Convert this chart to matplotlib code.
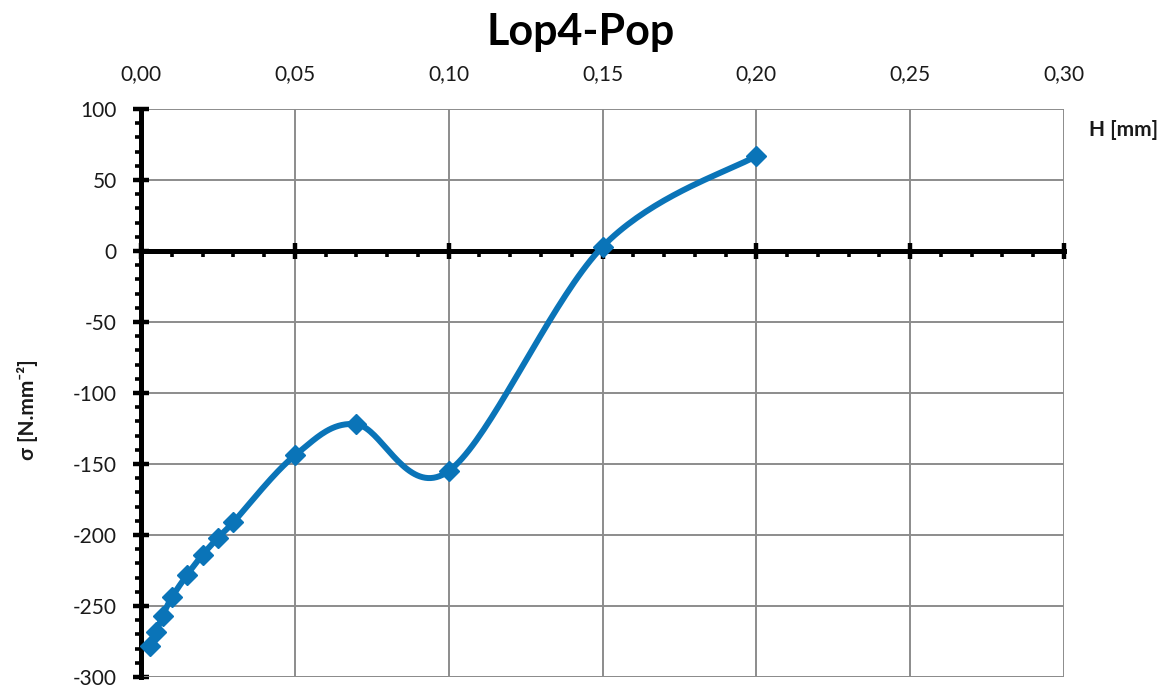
import numpy as np
import matplotlib.pyplot as plt
from matplotlib.ticker import MultipleLocator, FuncFormatter

plt.rcParams['font.family'] = ['Lato', 'DejaVu Sans']

# measured points: depth H [mm] vs residual stress sigma [N/mm2]
h = [0.003, 0.005, 0.007, 0.010, 0.015, 0.020, 0.025, 0.030, 0.05, 0.07, 0.10, 0.15, 0.20]
sigma = [-278, -268, -257, -244, -228, -214, -202, -191, -144, -122, -155, 3, 67]

x_ticks = [0.00, 0.05, 0.10, 0.15, 0.20, 0.25, 0.30]
y_ticks = [-300, -250, -200, -150, -100, -50, 0, 50, 100]

blue = '#0a74b8'


def smooth(xs, ys, n=40):
    # Catmull-Rom bezier pieces, same idea as a spreadsheet "smoothed line"
    pts = np.column_stack([xs, ys]).astype(float)
    pts = np.vstack([pts[0], pts, pts[-1]])
    out = []
    t = np.linspace(0, 1, n)[:, None]
    for i in range(1, len(pts) - 2):
        p0, p3 = pts[i], pts[i + 1]
        p1 = p0 + (pts[i + 1] - pts[i - 1]) / 6
        p2 = p3 - (pts[i + 2] - pts[i]) / 6
        seg = ((1 - t) ** 3) * p0 + 3 * ((1 - t) ** 2) * t * p1 + 3 * (1 - t) * t ** 2 * p2 + t ** 3 * p3
        out.append(seg)
    out = np.vstack(out)
    return out[:, 0], out[:, 1]


fig = plt.figure(figsize=(11.71, 6.86), dpi=100)
ax = fig.add_axes([141 / 1171, 1 - 677 / 686, (1064 - 141) / 1171, (677 - 109) / 686])

ax.set_xlim(0, 0.30)
ax.set_ylim(-300, 100)

ax.set_xticks(x_ticks)
ax.set_yticks(y_ticks)
ax.xaxis.set_minor_locator(MultipleLocator(0.01))
ax.yaxis.set_minor_locator(MultipleLocator(10))
ax.grid(True, which='major', color='#8c8c8c', lw=1.4)
ax.set_axisbelow(True)

for s in ['top', 'right']:
    ax.spines[s].set_visible(False)
ax.spines['bottom'].set_position(('data', 0))
ax.spines['bottom'].set_linewidth(3.6)
ax.spines['left'].set_linewidth(3.6)
ax.spines['bottom'].set_zorder(4)
ax.spines['left'].set_zorder(4)

ax.tick_params(axis='x', which='major', direction='inout', length=11, width=3.2,
               labelbottom=False, bottom=True, top=False)
ax.tick_params(axis='x', which='minor', direction='out', length=4, width=2.6)
ax.tick_params(axis='y', which='major', direction='inout', length=11, width=3.2,
               labelsize=15, pad=12, labelcolor='#1a1a1a')
ax.tick_params(axis='y', which='minor', direction='out', length=4, width=2.6)
ax.yaxis.set_major_formatter(FuncFormatter(lambda v, p: '%d' % v))

# x labels sit on top of the plot area
sec = ax.secondary_xaxis('top')
sec.set_xticks(x_ticks)
sec.xaxis.set_major_formatter(FuncFormatter(lambda v, p: ('%.2f' % v).replace('.', ',')))
sec.spines['top'].set_visible(False)
sec.tick_params(length=0, pad=18, labelsize=15, labelcolor='#1a1a1a')

# bottom grid line closes the frame
ax.axhline(-300, color='#8c8c8c', lw=1.4)

sx, sy = smooth(h, sigma)
ax.plot(sx, sy, color=blue, lw=4.3, zorder=5, solid_capstyle='round')
ax.plot(h, sigma, ls='none', marker='D', ms=10, color=blue, zorder=6, clip_on=False)

fig.text(581 / 1171, 1 - 32 / 686, 'Lop4-Pop', fontsize=31, fontweight='bold',
         ha='center', va='center')
fig.text(1124 / 1171, 1 - 130 / 686, 'H [mm]', fontsize=15, fontweight='bold',
         ha='center', va='center', color='#1a1a1a')
fig.text(27 / 1171, 1 - 410 / 686, 'σ [N.mm⁻²]', fontsize=15, fontweight='bold',
         ha='center', va='center', rotation=90, color='#1a1a1a')

fig.savefig('out.png', dpi=100)
